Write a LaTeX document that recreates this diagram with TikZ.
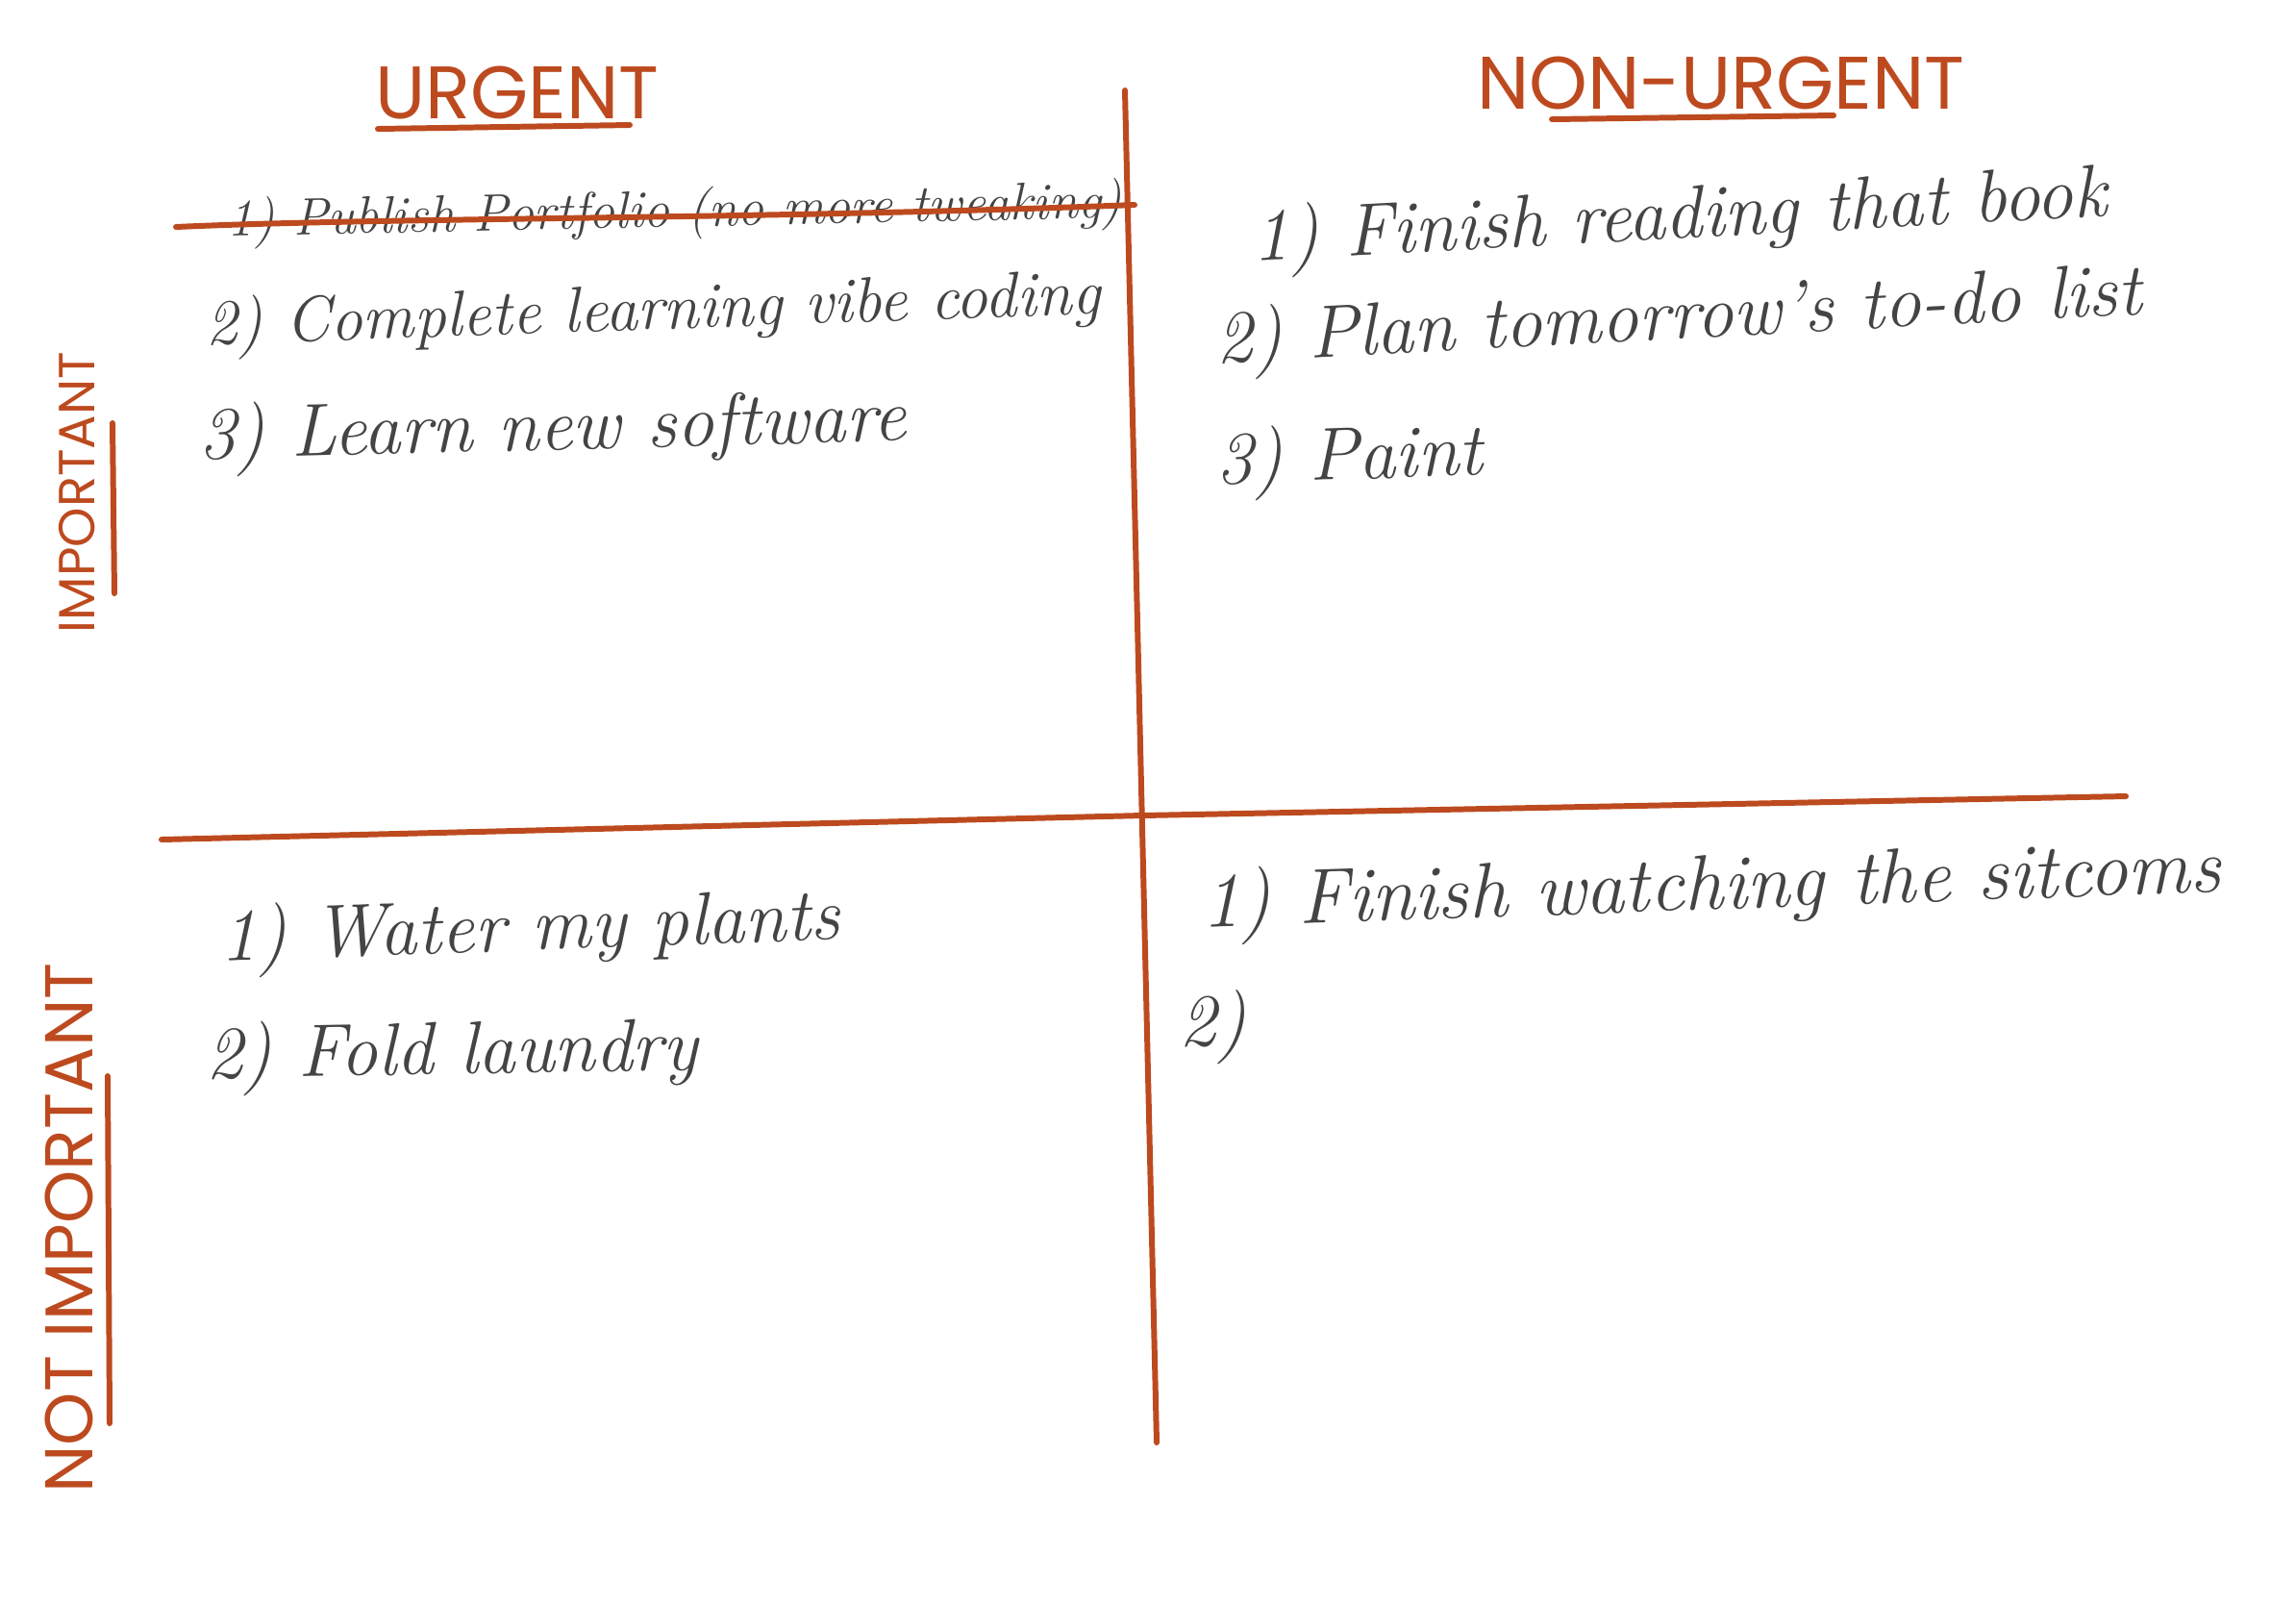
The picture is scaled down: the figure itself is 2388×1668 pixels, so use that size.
\documentclass[tikz,border=0pt]{standalone}
\usepackage{fontspec}
\newfontfamily\titlefont{Poppins}
\definecolor{pen}{HTML}{BD4A1F}
\definecolor{ink}{HTML}{444444}
\tikzset{
  rule/.style={draw=pen, line width=1.7pt, line cap=round},
  heading/.style={text=pen, font=\titlefont\fontsize{22}{26}\selectfont, inner sep=0pt},
  sidehead/.style={text=pen, inner sep=0pt, rotate=90},
  item/.style={text=ink, font=\itshape\fontsize{22}{26}\selectfont, inner sep=0pt, anchor=west},
}
\begin{document}
\begin{tikzpicture}[x=0.01cm,y=-0.01cm]
\useasboundingbox[fill=white] (0,0) rectangle (2388,1668);
% grid lines
\coordinate (vtop) at (1170,94);
\coordinate (vbot) at (1203,1500);
\coordinate (hl) at (168,873);
\coordinate (hm) at (1188,848);
\coordinate (hr) at (2211,828);
\draw[rule] (vtop) -- (vbot);
\draw[rule] (hl) -- (hm) -- (hr);
% headings
\node[heading] (urg) at (538,96) {URGENT};
\draw[rule] (393,134) -- (655,130);
\node[heading] (nonurg) at (1790,86) {NON-URGENT};
\draw[rule] (1614,124) -- (1907,120);
\node[sidehead, font=\titlefont\fontsize{15}{18}\selectfont] (imp) at (80,512) {IMPORTANT};
\draw[rule] (117,440) -- (119,617);
\node[sidehead, font=\titlefont\fontsize{20}{24}\selectfont] (notimp) at (72,1277) {NOT IMPORTANT};
\draw[rule] (112,1119) -- (114,1480);
% Q1
\node[item, rotate=1.2, font=\itshape\fontsize{15.5}{19}\selectfont] (a1) at (236,232) {1) Publish Portfolio (no more tweaking)};
\draw[rule] (183,236) .. controls (400,226) and (800,228) .. (1180,213);
\node[item, rotate=2, font=\itshape\fontsize{19}{23}\selectfont] (a2) at (213,342) {2) Complete learning vibe coding};
\node[item, rotate=1.5] (a3) at (206,458) {3) Learn new software};
% Q2
\node[item, rotate=3] (b1) at (1302,252) {1) Finish reading that book};
\node[item, rotate=3] (b2) at (1264,358) {2) Plan tomorrow's to-do list};
\node[item, rotate=2] (b3) at (1264,484) {3) Paint};
% Q3
\node[item, rotate=2] (c1) at (228,980) {1) Water my plants};
\node[item, rotate=1] (c2) at (213,1102) {2) Fold laundry};
% Q4
\node[item, rotate=2, font=\itshape\fontsize{23}{27}\selectfont] (d1) at (1249,944) {1) Finish watching the sitcoms};
\node[item] (d2) at (1226,1068) {2)};
\end{tikzpicture}
\end{document}
